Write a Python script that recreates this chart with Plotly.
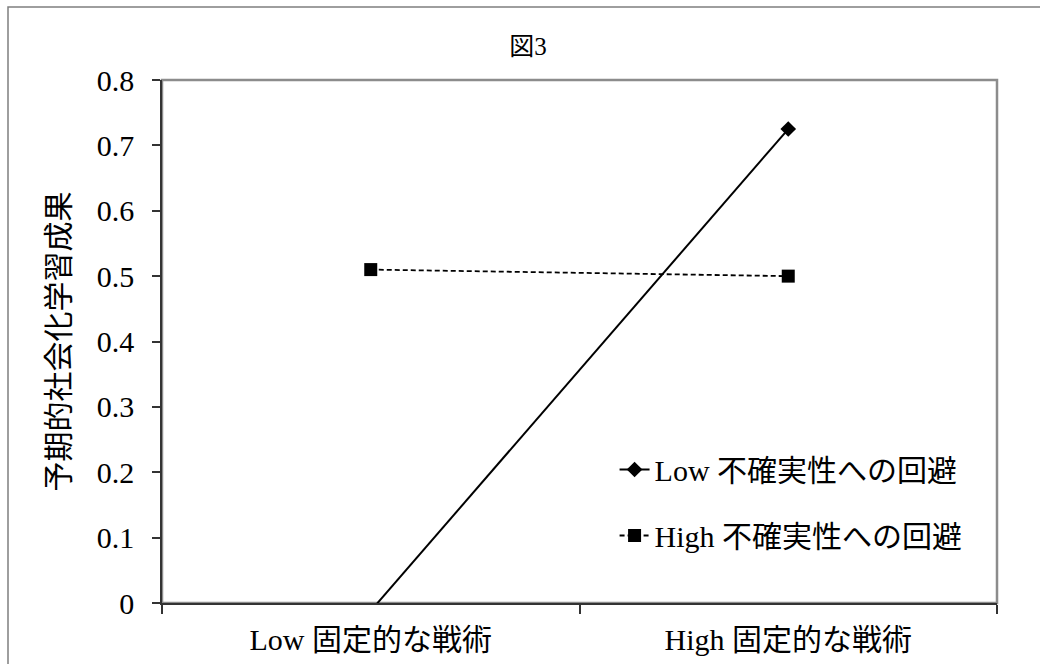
import plotly.graph_objects as go

# Categories on the x axis
categories = ["Low 固定的な戦術", "High 固定的な戦術"]

# Predicted values for each moderator level
low_uncertainty = [-0.012, 0.725]
high_uncertainty = [0.51, 0.50]

series_names = ["Low 不確実性への回避", "High 不確実性への回避"]

y_ticks = [0, 0.1, 0.2, 0.3, 0.4, 0.5, 0.6, 0.7, 0.8]
y_tick_text = ["0", "0.1", "0.2", "0.3", "0.4", "0.5", "0.6", "0.7", "0.8"]

serif = "Liberation Serif, Times New Roman, Noto Sans CJK JP, serif"
gothic = "Noto Sans CJK JP, sans-serif"

fig = go.Figure()

fig.add_trace(go.Scatter(
    x=categories, y=low_uncertainty, name=series_names[0],
    mode="lines+markers", legendgroup="a",
    line=dict(color="black", width=2),
    marker=dict(symbol="diamond", size=12, color="black"),
))
fig.add_trace(go.Scatter(
    x=categories, y=high_uncertainty, name=series_names[1],
    mode="lines+markers", legendgroup="b",
    line=dict(color="black", width=1.8, dash="5px,3px"),
    marker=dict(symbol="square", size=13, color="black"),
))

L, R, T, B = 162, 43, 80, 61
W, H = 1040, 664

fig.update_layout(
    width=W, height=H,
    margin=dict(l=L, r=R, t=T, b=B, autoexpand=False),
    paper_bgcolor="white",
    plot_bgcolor="rgba(0,0,0,0)",
    title=dict(text="図3", font=dict(family=serif, size=25, color="black"),
               xref="container", yref="container",
               x=528 / W, y=1 - 46 / H, xanchor="center", yanchor="middle"),
    showlegend=True,
    legend=dict(
        x=0.542, y=0.305, xanchor="left", yanchor="top",
        font=dict(family=serif, size=30, color="black"),
        bgcolor="rgba(0,0,0,0)",
        traceorder="grouped", tracegroupgap=24,
    ),
    xaxis=dict(
        type="category", range=[-0.5, 1.5],
        tickson="boundaries", ticks="outside", ticklen=9, tickcolor="#333333",
        tickwidth=1.5,
        showline=True, linecolor="#333333", linewidth=1.5,
        showgrid=False, zeroline=False,
        tickfont=dict(family=serif, size=30, color="black"),
        ticklabelstandoff=9,
    ),
    yaxis=dict(
        range=[0, 0.8], tickvals=y_ticks, ticktext=y_tick_text,
        ticks="outside", ticklen=8, tickcolor="#333333", tickwidth=1.5,
        showline=True, linecolor="#333333", linewidth=1.5,
        showgrid=False, zeroline=False,
        tickfont=dict(family=serif, size=30, color="black"),
        ticklabelstandoff=12,
        title=dict(text="予期的社会化学習成果",
                   font=dict(family=gothic, size=30, color="black"),
                   standoff=18),
    ),
    shapes=[
        # outer chart frame
        dict(type="rect", xref="paper", yref="paper",
             x0=(8 - L) / (W - L - R), x1=1.2,
             y0=-0.3, y1=(H - B - 7) / (H - T - B),
             line=dict(color="#7f7f7f", width=1.5), layer="below"),
        # plot area frame
        dict(type="rect", xref="paper", yref="paper",
             x0=0, x1=1, y0=0, y1=1,
             line=dict(color="#8c8c8c", width=2.5), layer="below"),
    ],
)

fig.write_html("out.html")
